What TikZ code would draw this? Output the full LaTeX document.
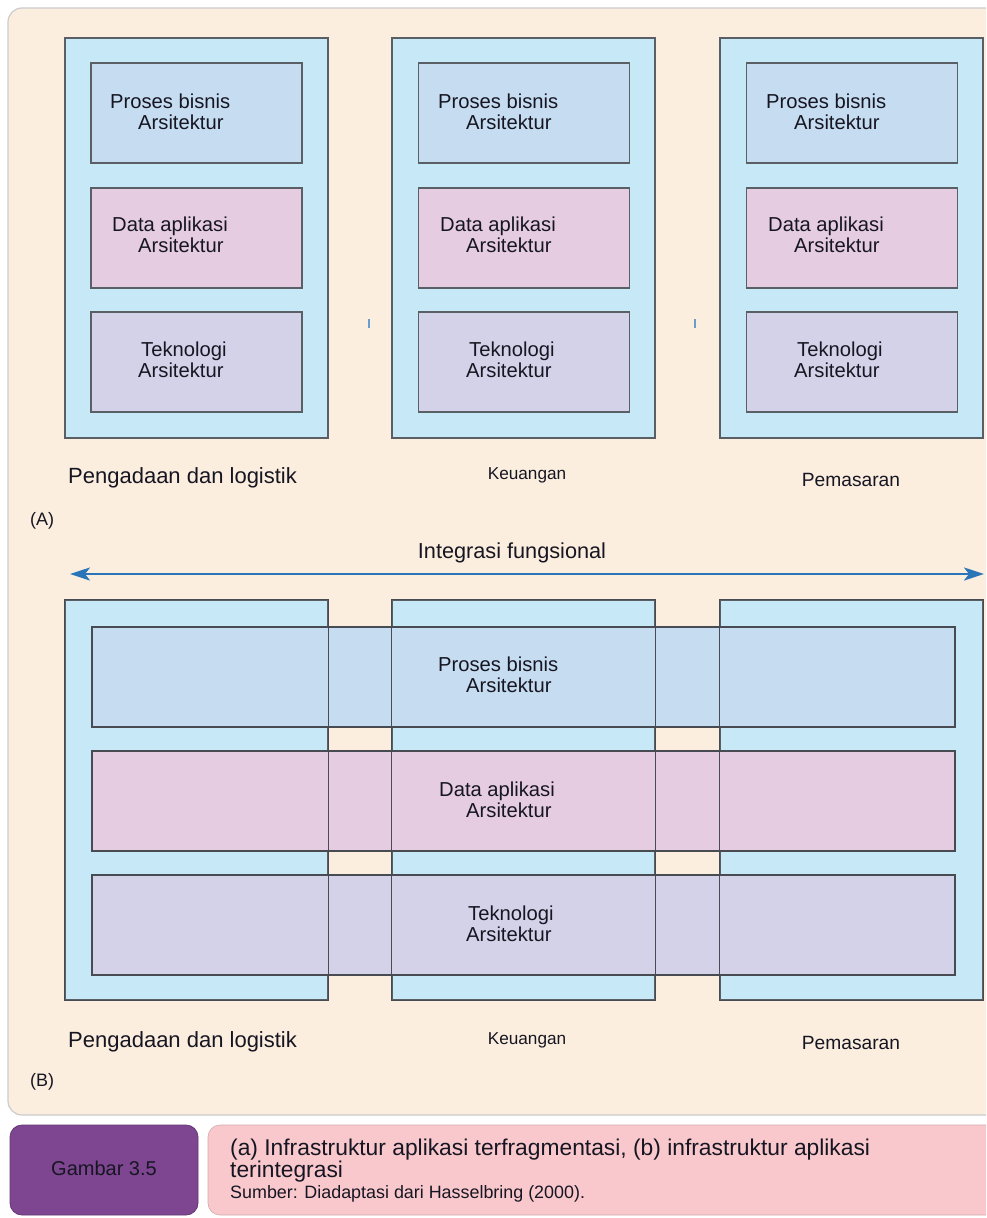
\documentclass[tikz,border=0pt]{standalone}
\usepackage{fontspec}
\setmainfont{Liberation Sans}
\usepackage{xcolor}
\usetikzlibrary{arrows.meta, positioning}
\definecolor{PanelPeach}{HTML}{FCEEDF}
\definecolor{ColBlue}{HTML}{C6E8F7}
\definecolor{ProcBlue}{HTML}{C6DCF0}
\definecolor{DataPink}{HTML}{E6CCE0}
\definecolor{TechLilac}{HTML}{D4D2E8}
\definecolor{ArrowBlue}{HTML}{2A74B8}
\definecolor{FigPurple}{HTML}{7E4690}
\definecolor{CapPink}{HTML}{F9C8CC}
\definecolor{EdgeGrey}{HTML}{5A5F66}
\definecolor{InkDark}{HTML}{161622}

\tikzset{
  column/.style={draw=EdgeGrey, line width=1.6pt, fill=ColBlue, minimum width=263pt, minimum height=400pt, inner sep=0pt},
  archbox/.style={draw=EdgeGrey, line width=1.4pt, minimum width=211pt, minimum height=100pt, inner sep=0pt},
  band/.style={draw=EdgeGrey!80!black, line width=1.1pt, minimum width=863pt, minimum height=100pt, inner sep=0pt},
  boxtext/.style={anchor=west, align=left, inner sep=0pt, text=InkDark, font=\fontsize{20.2}{21}\selectfont},
  dept/.style={text=InkDark, inner sep=0pt}
}

\begin{document}
\begin{tikzpicture}[x=1pt, y=-1pt]
    \useasboundingbox (0,0) rectangle (986,1218);
    \clip (0,0) rectangle (986,1218);
    \fill[white] (0,0) rectangle (986,1218);
    % Background panel
    \draw[draw=gray!40, line width=1.2pt, fill=PanelPeach, rounded corners=14pt] (8,8) rectangle (1010,1115);

    % (A) separate columns
    \node[column] (colA1) at (196.5,238) {};
    \node[column] (colA2) at (523.5,238) {};
    \node[column] (colA3) at (851.5,238) {};
    \node[archbox, fill=ProcBlue] (pbA1) at (196.5,113) {};
    \node[archbox, fill=DataPink] (daA1) at (196.5,238) {};
    \node[archbox, fill=TechLilac] (teA1) at (196.5,362) {};
    \node[archbox, fill=ProcBlue] (pbA2) at (524,113) {};
    \node[archbox, fill=DataPink] (daA2) at (524,238) {};
    \node[archbox, fill=TechLilac] (teA2) at (524,362) {};
    \node[archbox, fill=ProcBlue] (pbA3) at (852,113) {};
    \node[archbox, fill=DataPink] (daA3) at (852,238) {};
    \node[archbox, fill=TechLilac] (teA3) at (852,362) {};
    % Box texts
    \node[boxtext] (pbA1t) at (110,111.5) {Proses bisnis\\\hspace*{28pt}Arsitektur};
    \node[boxtext] (daA1t) at (112,234.5) {Data aplikasi\\\hspace*{26pt}Arsitektur};
    \node[boxtext] (teA1t) at (138,359.5) {\hspace*{3pt}Teknologi\\Arsitektur};
    \node[boxtext] (pbA2t) at (438,111.5) {Proses bisnis\\\hspace*{28pt}Arsitektur};
    \node[boxtext] (daA2t) at (440,234.5) {Data aplikasi\\\hspace*{26pt}Arsitektur};
    \node[boxtext] (teA2t) at (466,359.5) {\hspace*{3pt}Teknologi\\Arsitektur};
    \node[boxtext] (pbA3t) at (766,111.5) {Proses bisnis\\\hspace*{28pt}Arsitektur};
    \node[boxtext] (daA3t) at (768,234.5) {Data aplikasi\\\hspace*{26pt}Arsitektur};
    \node[boxtext] (teA3t) at (794,359.5) {\hspace*{3pt}Teknologi\\Arsitektur};
    % Small marks between columns
    \draw[ArrowBlue!70, line width=1.5pt] (369,319) -- (369,328);
    \draw[ArrowBlue!70, line width=1.5pt] (695,319) -- (695,328);
    % Department labels
    \node[dept, anchor=west, font=\fontsize{22}{24}\selectfont] (depA1) at (68,478) {Pengadaan dan logistik};
    \node[dept, font=\fontsize{17.2}{19}\selectfont] (depA2) at (527,475) {Keuangan};
    \node[dept, font=\fontsize{19.2}{21}\selectfont] (depA3) at (851,480) {Pemasaran};
    \node[dept, anchor=west, font=\fontsize{18}{20}\selectfont] (tagA) at (30,521) {(A)};

    % Integration arrow
    \node[dept, font=\fontsize{21.7}{23}\selectfont] (integ) at (512,553) {Integrasi fungsional};
    \coordinate (arrL) at (70,574);
    \coordinate (arrR) at (984,574);
    \draw[ArrowBlue, line width=2.4pt, {Stealth[length=20pt, width=13pt, inset=5pt]}-{Stealth[length=20pt, width=13pt, inset=5pt]}] (arrL) -- (arrR);

    % (B) integrated columns
    \node[column] (colB1) at (196.5,800) {};
    \node[column] (colB2) at (523.5,800) {};
    \node[column] (colB3) at (851.5,800) {};
    \node[band, fill=ProcBlue] (pbB) at (523.5,677) {};
    \node[band, fill=DataPink] (daB) at (523.5,801) {};
    \node[band, fill=TechLilac] (teB) at (523.5,925) {};
    % Column outlines over the bands
    \draw[EdgeGrey!80!black, line width=1.1pt] (colB1.north west) rectangle (colB1.south east);
    \draw[EdgeGrey!80!black, line width=1.1pt] (colB2.north west) rectangle (colB2.south east);
    \draw[EdgeGrey!80!black, line width=1.1pt] (colB3.north west) rectangle (colB3.south east);
    \node[boxtext] (pbBt) at (438,675) {Proses bisnis\\\hspace*{28pt}Arsitektur};
    \node[boxtext] (daBt) at (439,799.5) {Data aplikasi\\\hspace*{27pt}Arsitektur};
    \node[boxtext] (teBt) at (466,923.5) {\hspace*{2pt}Teknologi\\Arsitektur};
    % Department labels
    \node[dept, anchor=west, font=\fontsize{22}{24}\selectfont] (depB1) at (68,1042) {Pengadaan dan logistik};
    \node[dept, font=\fontsize{17.2}{19}\selectfont] (depB2) at (527,1040) {Keuangan};
    \node[dept, font=\fontsize{19.2}{21}\selectfont] (depB3) at (851,1043) {Pemasaran};
    \node[dept, anchor=west, font=\fontsize{18}{20}\selectfont] (tagB) at (30,1082) {(B)};

    % Caption
    \draw[fill=FigPurple, draw=FigPurple!80!black, line width=0.8pt, rounded corners=12pt] (10,1125) rectangle (198,1215);
    \node[dept, font=\fontsize{20}{22}\selectfont] (figno) at (104,1168) {Gambar 3.5};
    \draw[fill=CapPink, draw=CapPink!85!black, line width=0.6pt, rounded corners=12pt] (208,1125) rectangle (1010,1215);
    \node[dept, anchor=base west, font=\fontsize{22.8}{24}\selectfont] (captxt) at (230,1155) {(a) Infrastruktur aplikasi terfragmentasi, (b) infrastruktur aplikasi};
    \node[dept, anchor=base west, font=\fontsize{22.8}{24}\selectfont] (captxt2) at (230,1177) {terintegrasi};
    \node[dept, anchor=west, font=\fontsize{17.9}{19}\selectfont] (capsrc) at (230,1194) {Sumber: Diadaptasi dari Hasselbring (2000).};
\end{tikzpicture}
\end{document}
